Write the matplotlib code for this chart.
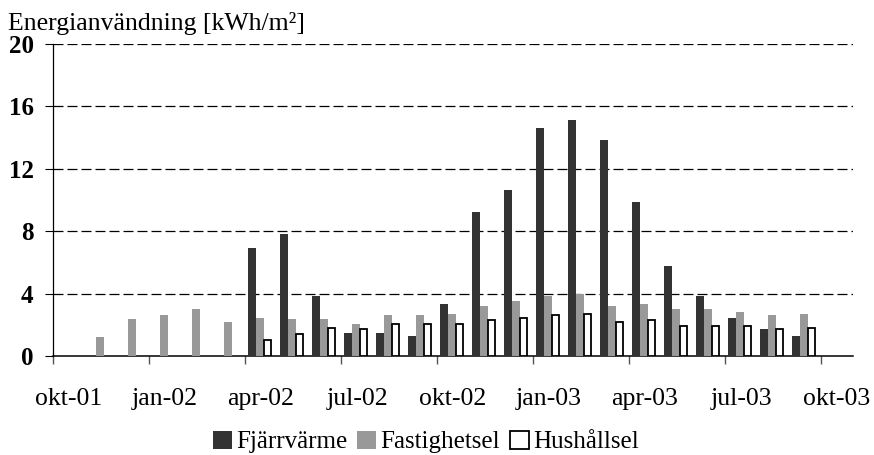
import numpy as np
import matplotlib
matplotlib.use("Agg")
import matplotlib.pyplot as plt
from matplotlib.patches import Patch

nan = np.nan
months = ["okt-01", "nov-01", "dec-01", "jan-02", "feb-02", "mar-02", "apr-02",
          "maj-02", "jun-02", "jul-02", "aug-02", "sep-02", "okt-02", "nov-02",
          "dec-02", "jan-03", "feb-03", "mar-03", "apr-03", "maj-03", "jun-03",
          "jul-03", "aug-03", "sep-03", "okt-03"]
fjarrvarme = [nan, nan, nan, nan, nan, nan, 6.95, 7.85, 3.85, 1.45, 1.45, 1.3,
              3.35, 9.25, 10.65, 14.6, 15.1, 13.85, 9.9, 5.8, 3.85, 2.45, 1.7, 1.3, nan]
fastighetsel = [nan, 1.2, 2.35, 2.6, 3.0, 2.2, 2.45, 2.35, 2.35, 2.05, 2.6, 2.6,
                2.7, 3.2, 3.5, 3.85, 4.0, 3.2, 3.35, 3.0, 3.0, 2.85, 2.6, 2.7, nan]
hushallsel = [nan, nan, nan, nan, nan, nan, 1.0, 1.4, 1.8, 1.7, 2.05, 2.05,
              2.05, 2.3, 2.45, 2.6, 2.7, 2.2, 2.3, 1.95, 1.95, 1.95, 1.7, 1.8, nan]
series_names = ["Fjärrvärme", "Fastighetsel", "Hushållsel"]
yticks = [0, 4, 8, 12, 16, 20]
label_every = 3
title = "Energianvändning [kWh/m²]"

plt.rcParams['font.family'] = ['Liberation Serif', 'DejaVu Serif']

fig = plt.figure(figsize=(8.74, 4.55), dpi=100)
ax = fig.add_axes([53/874, 1-356/455, 800/874, 312/455])

x = np.arange(len(months))
w = 0.24
shift = -0.04
ax.bar(x - w + shift, fjarrvarme, width=w, color="#333333", linewidth=0, zorder=3)
ax.bar(x + shift, fastighetsel, width=w, color="#999999", linewidth=0, zorder=3)
ax.bar(x + w + shift, hushallsel, width=w*0.88, color="white", edgecolor="black",
       linewidth=1.3, zorder=3)

ax.set_xlim(-0.5, len(months) - 0.5)
ax.set_ylim(0, 20)

# Major ticks at category boundaries every 3 months, labels at category centres
ax.set_xticks(np.arange(-0.5, len(months) - 0.5, label_every))
ax.set_xticklabels([])
ax.set_xticks(x[::label_every], minor=True)
ax.set_xticklabels([months[i] for i in x[::label_every]], minor=True, fontsize=18.5)
ax.tick_params(axis='x', which='major', direction='out', length=6, width=1, color='#555555')
ax.tick_params(axis='x', which='minor', length=0, pad=23)

ax.set_yticks(yticks)
ax.set_yticklabels([str(v) for v in yticks], fontsize=18, fontweight='bold')
ax.tick_params(axis='y', direction='out', length=6, width=0.8, pad=8)

for v in yticks[1:]:
    ax.axhline(v, color='black', linewidth=0.9, linestyle=(0, (8, 3.2)), zorder=1)

for s in ['top', 'right']:
    ax.spines[s].set_visible(False)
ax.spines['left'].set_linewidth(0.9)
ax.spines['bottom'].set_linewidth(1.1)

fig.text(8/874, 1-30/455, title, fontsize=18.5, va='baseline', ha='left')

handles = [Patch(facecolor="#333333", edgecolor="none"),
           Patch(facecolor="#999999", edgecolor="none"),
           Patch(facecolor="white", edgecolor="black", linewidth=1.3)]
fig.legend(handles, series_names, loc='center', bbox_to_anchor=(426/874, 1-442/455),
           ncol=3, frameon=False, fontsize=18, handlelength=0.75, handleheight=0.75,
           handletextpad=0.18, columnspacing=0.4, borderaxespad=0, borderpad=0)

fig.savefig("out.png", dpi=100)
